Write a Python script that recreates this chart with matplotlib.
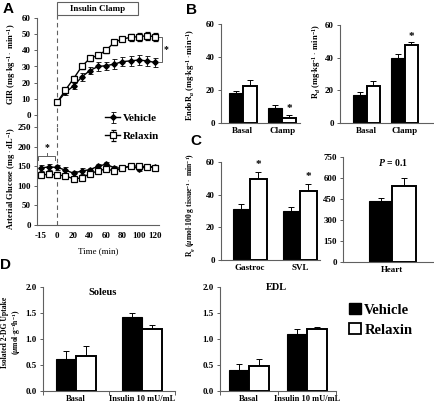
import matplotlib
matplotlib.use('Agg')
import matplotlib.pyplot as plt
import numpy as np
from matplotlib.patches import Rectangle, Patch
from matplotlib.lines import Line2D

plt.rcParams['font.family'] = ['Liberation Serif', 'DejaVu Serif']
plt.rcParams['font.weight'] = 'bold'
plt.rcParams['mathtext.fontset'] = 'custom'
plt.rcParams['mathtext.rm'] = 'Liberation Serif:bold'
plt.rcParams['mathtext.it'] = 'Liberation Serif:italic:bold'
plt.rcParams['mathtext.bf'] = 'Liberation Serif:bold'
plt.rcParams['axes.linewidth'] = 0.8

# ── Data ─────────────────────────────────────────────────────────────────────
times = ['-15', '-5', '0', '10', '20', '30', '40', '50', '60', '70', '80', '90', '100', '110', '120']
gir_start = 2    # GIR sampled from t=0 on
gir_veh = [8, 14, 18, 23.5, 27.5, 30, 30.5, 31.5, 33, 33.5, 34, 33.5, 32.5]
gir_veh_err = [1.5, 1.5, 2, 2.5, 2, 2.5, 2.5, 3, 3, 3, 3, 3, 3]
gir_rlx = [8, 15.5, 22.5, 30, 35, 37, 40, 45, 47, 48, 48.5, 49, 48.5]
gir_rlx_err = [1.5, 1.5, 1.5, 1.5, 1.5, 1.5, 1.5, 1.5, 1.5, 2, 2.5, 2.5, 2.5]
glu_veh = [146, 148, 147, 140, 132, 138, 141, 150, 155, 146, 145, 150, 144, 148, 149]
glu_veh_err = [7, 7, 7, 8, 7, 7, 5, 6, 6, 5, 4, 4, 5, 4, 4]
glu_rlx = [128, 129, 128, 125, 118, 120, 131, 138, 143, 138, 145, 151, 150, 149, 146]
glu_rlx_err = [6, 6, 6, 5, 4, 5, 5, 5, 5, 5, 4, 4, 4, 4, 4]

endo_groups = ['Basal', 'Clamp']
endo_veh = [18, 9.3]
endo_veh_err = [1.6, 1.4]
endo_rlx = [22.6, 3.1]
endo_rlx_err = [3.2, 1.7]

rd_veh = [17, 39.5]
rd_veh_err = [1.8, 2.6]
rd_rlx = [22.5, 47.8]
rd_rlx_err = [3.2, 1.6]

rg_groups = ['Gastroc', 'SVL']
rg_veh = [31.5, 30]
rg_veh_err = [3, 2.7]
rg_rlx = [49.5, 42.5]
rg_rlx_err = [4.5, 3.8]

heart_groups = ['Heart']
heart_veh = [433]
heart_veh_err = [27]
heart_rlx = [540]
heart_rlx_err = [58]

dg_groups = ['Basal', 'Insulin 10 mU/mL']
sol_veh = [0.62, 1.42]
sol_veh_err = [0.14, 0.08]
sol_rlx = [0.67, 1.19]
sol_rlx_err = [0.2, 0.07]
edl_veh = [0.41, 1.09]
edl_veh_err = [0.1, 0.11]
edl_rlx = [0.48, 1.2]
edl_rlx_err = [0.13, 0.03]

W, H = 435, 405
AX = '#606060'
fig = plt.figure(figsize=(W / 100, H / 100), dpi=100)


def px_axes(x0, y0, x1, y1):
    """Axes from pixel box, origin top-left."""
    return fig.add_axes([x0 / W, 1 - y1 / H, (x1 - x0) / W, (y1 - y0) / H])


def style(ax, xticks=False):
    for s in ('top', 'right'):
        ax.spines[s].set_visible(False)
    for s in ('left', 'bottom'):
        ax.spines[s].set_color(AX)
    ax.tick_params(axis='y', labelsize=6.5, length=2.5, width=0.7, color=AX, pad=2)
    ax.tick_params(axis='x', labelsize=6.5, length=2.5 if xticks else 0, width=0.7,
                   color=AX, pad=3)


def bars(ax, groups, veh, veh_err, rlx, rlx_err, w):
    x = np.arange(len(groups))
    ax.bar(x - w / 2, veh, w, color='black', edgecolor='black', linewidth=0.8, zorder=2)
    ax.bar(x + w / 2, rlx, w, color='white', edgecolor='black', linewidth=1.4, zorder=2)
    ax.errorbar(x - w / 2, veh, yerr=[np.zeros(len(x)), veh_err], fmt='none',
                ecolor='black', elinewidth=0.7, capsize=2, capthick=0.7, zorder=1)
    ax.errorbar(x + w / 2, rlx, yerr=[np.zeros(len(x)), rlx_err], fmt='none',
                ecolor='black', elinewidth=0.7, capsize=2, capthick=0.7, zorder=1)
    ax.set_xticks(x)
    ax.set_xticklabels(groups)
    return x


def star(ax, x, top, off):
    ax.text(x, top + off, '*', ha='center', va='bottom', fontsize=8)


def ylab(x, y, s, size=6):
    fig.text(x / W, 1 - y / H, s, rotation=90, ha='center', va='center',
             fontsize=size, multialignment='center')


def letter(x, y, s):
    fig.text(x / W, 1 - y / H, s, family='Liberation Sans', fontweight='bold',
             fontsize=11, ha='center', va='center')


VEH_STYLE = dict(color='black', marker='D', ms=2.8, mfc='black', mec='black', lw=1,
                 elinewidth=0.6, capsize=1.8, capthick=0.6)
RLX_STYLE = dict(color='black', marker='s', ms=3.9, mfc='white', mec='black', mew=0.9,
                 lw=1, elinewidth=0.6, capsize=1.8, capthick=0.6)

# ── A: GIR + arterial glucose ───────────────────────────────────────────────
xi = np.arange(len(times))
gx = xi[gir_start:]

axg = px_axes(37, 18, 159, 115)
axg.set_facecolor('none')
for s in ('top', 'right', 'bottom'):
    axg.spines[s].set_visible(False)
axg.spines['left'].set_color(AX)
axg.errorbar(gx, gir_veh, yerr=gir_veh_err, **VEH_STYLE)
axg.errorbar(gx, gir_rlx, yerr=gir_rlx_err, **RLX_STYLE)
axg.set_xlim(-0.5, 14.5)
axg.set_ylim(0, 60)
axg.set_yticks(range(0, 61, 10))
axg.set_xticks([])
axg.tick_params(axis='y', labelsize=6.5, length=2.5, width=0.7, color=AX, pad=2)
axg.axvline(gir_start, ymin=-0.13, ymax=1.03, color=AX, lw=0.8, ls=(0, (4, 3)),
            clip_on=False)
# clamp box
tr = axg.get_xaxis_transform()
axg.add_patch(Rectangle((gir_start, 1.03), 9.95, 0.135, transform=tr,
                        facecolor='white', edgecolor=AX, lw=0.8, clip_on=False))
axg.text(gir_start + 9.95 / 2, 1.097, 'Insulin Clamp', transform=tr, ha='center',
         va='center', fontsize=6.5)
# significance bracket
axg.plot([14.55, 14.85, 14.85, 14.55], [gir_rlx[-1], gir_rlx[-1], gir_veh[-1], gir_veh[-1]],
         color=AX, lw=0.7, clip_on=False)
axg.text(15.4, (gir_rlx[-1] + gir_veh[-1]) / 2, '*', ha='center', va='center',
         fontsize=7)

axc = px_axes(37, 127, 159, 225)
style(axc)
axc.errorbar(xi, glu_veh, yerr=glu_veh_err, label='Vehicle', **VEH_STYLE)
axc.errorbar(xi, glu_rlx, yerr=glu_rlx_err, label='Relaxin', **RLX_STYLE)
axc.set_xlim(-0.5, 14.5)
axc.set_ylim(0, 250)
axc.set_yticks(range(0, 251, 50))
axc.set_xticks(xi)
axc.set_xticklabels([t if i % 2 == 0 else '' for i, t in enumerate(times)])
axc.tick_params(axis='x', length=0, pad=5)
axc.set_xlabel('Time (min)', fontsize=6.5, labelpad=5)
axc.axvline(gir_start, color=AX, lw=0.8, ls=(0, (4, 3)))
axc.plot([-0.35, -0.35, 1.7, 1.7], [167, 176, 176, 167], color=AX, lw=0.7)
axc.plot([0.68, 0.68], [176, 184], color=AX, lw=0.7)
axc.text(0.68, 186, '*', ha='center', va='bottom', fontsize=7)
axc.legend(loc='upper left', bbox_to_anchor=(0.56, 1.14), frameon=False,
           fontsize=8, handlelength=1.3, handletextpad=0.25, labelspacing=0.75,
           borderaxespad=0, borderpad=0)
# continuous y axis between the two panels
fig.add_artist(Line2D([37 / W, 37 / W], [1 - 115 / H, 1 - 127 / H], color=AX, lw=0.8))

ylab(12, 64, r'GIR (mg$\cdot$kg$^{-1}\cdot$ min$^{-1}$)')
ylab(12, 178, r'Arterial Glucose (mg $\cdot$ dL$^{-1}$)')
letter(8, 9, 'A')

# ── B: EndoRa and Rd ────────────────────────────────────────────────────────
axb1 = px_axes(221, 24, 300, 123)
style(axb1)
x = bars(axb1, endo_groups, endo_veh, endo_veh_err, endo_rlx, endo_rlx_err, 0.35)
axb1.set_xlim(-0.55, 1.45)
axb1.set_ylim(0, 60)
axb1.set_yticks([0, 20, 40, 60])
star(axb1, x[1] + 0.175, endo_rlx[1] + endo_rlx_err[1], 1.5)
ylab(191, 75, r'EndoR$_a$ (mg$\cdot$kg$^{-1}\cdot$min$^{-1}$)')

axb2 = px_axes(340, 25, 433, 123)
style(axb2)
x = bars(axb2, endo_groups, rd_veh, rd_veh_err, rd_rlx, rd_rlx_err, 0.35)
axb2.set_xlim(-0.7, 1.75)
axb2.set_ylim(0, 60)
axb2.set_yticks([0, 20, 40, 60])
star(axb2, x[1] + 0.175, rd_rlx[1] + rd_rlx_err[1], 0.8)
ylab(317, 62, r'R$_d$ (mg$\cdot$kg$^{-1}\cdot$ min$^{-1}$)')
letter(192, 10, 'B')

# ── C: tissue Rg ────────────────────────────────────────────────────────────
axc1 = px_axes(221, 162, 320, 260)
style(axc1)
x = bars(axc1, rg_groups, rg_veh, rg_veh_err, rg_rlx, rg_rlx_err, 0.34)
axc1.set_xlim(-0.58, 1.4)
axc1.set_ylim(0, 60)
axc1.set_yticks([0, 20, 40, 60])
for i in range(len(x)):
    star(axc1, x[i] + 0.17, rg_rlx[i] + rg_rlx_err[i], 2.0)
ylab(191, 205, r'R$_g$ ($\mu$mol$\cdot$100 g tissue$^{-1}\cdot$ min$^{-1}$)', 5.5)

axc2 = px_axes(343, 157, 433, 262)
style(axc2)
bars(axc2, heart_groups, heart_veh, heart_veh_err, heart_rlx, heart_rlx_err, 0.26)
axc2.set_xlim(-0.55, 0.45)
axc2.set_ylim(0, 750)
axc2.set_yticks(range(0, 751, 150))
axc2.text(0.56, 0.95, r'$P$ = 0.1', transform=axc2.transAxes, ha='center',
          va='center', fontsize=7)
letter(196, 141, 'C')

# ── D: isolated muscle 2-DG uptake ──────────────────────────────────────────
for box, veh, veh_err, rlx, rlx_err, w, title, tpos in [
        ((43, 287, 175, 391), sol_veh, sol_veh_err, sol_rlx, sol_rlx_err, 0.3,
         'Soleus', (0.45, 0.95)),
        ((220, 287, 336, 391), edl_veh, edl_veh_err, edl_rlx, edl_rlx_err, 0.34,
         'EDL', (0.49, 1.0))]:
    ax = px_axes(*box)
    style(ax, xticks=True)
    bars(ax, dg_groups, veh, veh_err, rlx, rlx_err, w)
    ax.set_xlim(-0.5, 1.5)
    ax.set_ylim(0, 2.0)
    ax.set_yticks([0, 0.5, 1.0, 1.5, 2.0])
    ax.set_yticklabels(['0.0', '0.5', '1.0', '1.5', '2.0'])
    # Excel-style category axis: ticks at the category boundaries
    ax.set_xticks([-0.5, 0.5, 1.5], minor=True)
    ax.tick_params(axis='x', which='major', length=0, labelsize=6)
    ax.tick_params(axis='x', which='minor', length=3, width=0.7, color=AX)
    ax.text(*tpos, title, transform=ax.transAxes, ha='center', va='center', fontsize=7.5)

ylab(12, 332, 'Isolated 2-DG Uptake\n' + r'($\mu$mol$\cdot$g$^{-1}$h$^{-1}$)', 5.5)
letter(6, 265, 'D')

fig.legend(handles=[Patch(facecolor='black', edgecolor='black', label='Vehicle'),
                    Patch(facecolor='white', edgecolor='black', lw=1.3, label='Relaxin')],
           loc='upper left', bbox_to_anchor=(349 / W, 1 - 303 / H), frameon=False,
           fontsize=10.5, handlelength=0.8, handleheight=0.8, handletextpad=0.25,
           labelspacing=0.45, borderaxespad=0, borderpad=0)

fig.savefig('out.png', dpi=100)
